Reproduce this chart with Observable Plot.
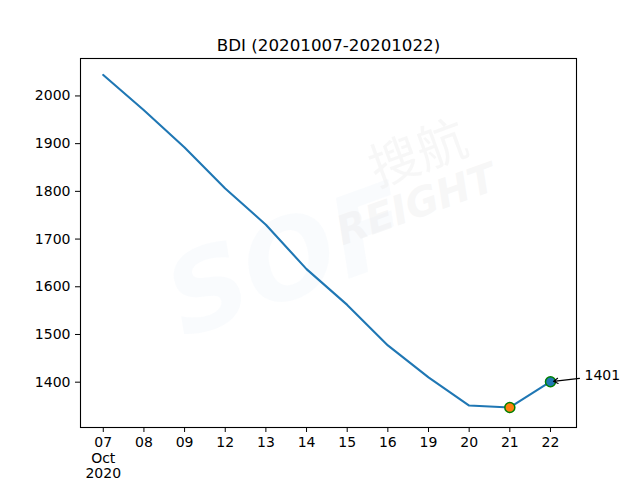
<!DOCTYPE html>
<html><head><meta charset="utf-8">
<script src="https://cdn.jsdelivr.net/npm/d3@7"></script>
<script src="https://cdn.jsdelivr.net/npm/@observablehq/plot@0.6"></script>
<style>body{margin:0;background:#fff}</style>
</head><body><div id="chart"></div>
<script>
const title = "BDI (20201007-20201022)";
const dayLabels = ["07","08","09","12","13","14","15","16","19","20","21","22"];
const firstTickLabel = "07\nOct\n2020";
const values = [2044,1970,1892,1806,1730,1637,1562,1477,1410,1351,1347,1401];
const yTicks = [1400,1500,1600,1700,1800,1900,2000];
const watermarkCn = "搜航";
const watermarkEn = "REIGHT";
const watermarkLogo = "SOF";

const data = values.map((v, i) => ({i, v, label: dayLabels[i]}));
const last = data[data.length - 1];
const prev = data[data.length - 2];
const annotation = [{x: last.i, y: last.v, text: String(last.v)}];

const chart = Plot.plot({
  width: 640,
  height: 480,
  marginTop: 58,
  marginRight: 64,
  marginBottom: 53,
  marginLeft: 80,
  style: {fontFamily: "DejaVu Sans", fontSize: "14px", color: "black", background: "white"},
  x: {domain: [-0.56, 11.64], axis: null},
  y: {domain: [1305, 2078.5], axis: null},
  marks: [
    // watermark
    Plot.text([watermarkLogo], {frameAnchor: "middle", dx: -40, dy: 20, text: d => d, rotate: -20, fontSize: 110, fontWeight: "bold", fontStyle: "italic", fill: "#eef3f8", fillOpacity: 0.35}),
    Plot.text([watermarkCn], {frameAnchor: "middle", dx: 90, dy: -88, text: d => d, rotate: -20, fontSize: 50, fontFamily: "Noto Sans CJK SC", fill: "#ededed", fillOpacity: 0.45}),
    Plot.text([watermarkEn], {frameAnchor: "middle", dx: 88, dy: -38, text: d => d, rotate: -20, fontSize: 40, fontWeight: "bold", fontStyle: "italic", fill: "#ededed", fillOpacity: 0.45}),
    Plot.frame({stroke: "black", strokeWidth: 1.1}),
    Plot.line(data, {x: "i", y: "v", stroke: "#1f77b4", strokeWidth: 2.1}),
    Plot.dot([prev], {x: "i", y: "v", r: 5, fill: "#ff7f0e", stroke: "green", strokeWidth: 1.5}),
    Plot.dot([last], {x: "i", y: "v", r: 5, fill: "#1f77b4", stroke: "green", strokeWidth: 1.5}),
    Plot.arrow(annotation, {x1: d => d.x + 0.713, y1: d => d.y + 7, x2: "x", y2: "y", insetEnd: 3, headLength: 7, stroke: "black", strokeWidth: 1.1}),
    Plot.text(annotation, {x: "x", y: "y", text: "text", dx: 34, dy: -6, textAnchor: "start", fontSize: 14, fill: "black"}),
    Plot.axisX({ticks: data.map(d => d.i), tickFormat: i => i === 0 ? firstTickLabel : dayLabels[i], tickSize: 5, tickPadding: 4, lineHeight: 1.1, fontSize: 14, fill: "black"}),
    Plot.axisY({ticks: yTicks, tickFormat: d => String(d), tickSize: 5, tickPadding: 5, fontSize: 14, fill: "black"}),
    Plot.text([title], {frameAnchor: "top", dy: -19, text: d => d, fontSize: 16.7, fill: "black"})
  ]
});
document.getElementById("chart").append(chart);
</script>
</body></html>
